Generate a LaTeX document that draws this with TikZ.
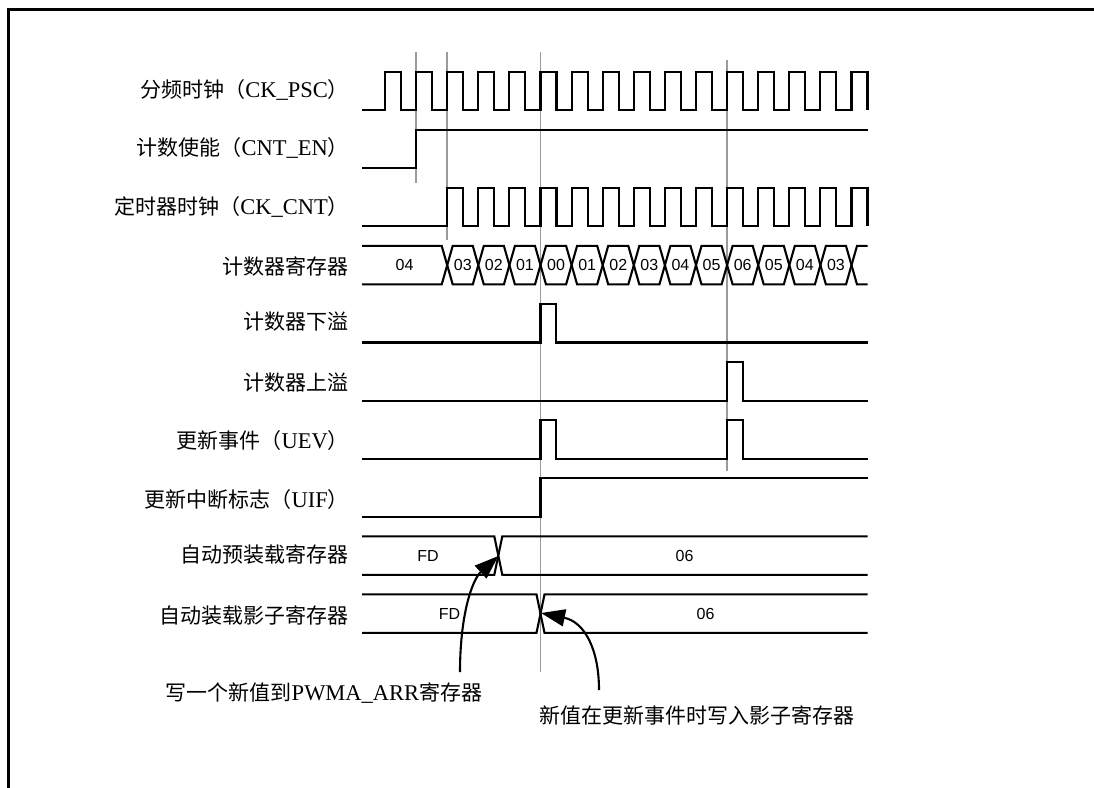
\documentclass[tikz,border=0pt]{standalone}
\usepackage{fontspec}
\setmainfont{Liberation Serif}
\newfontfamily\zhfont{Noto Sans CJK SC}
\newfontfamily\hexfont{Liberation Sans}
\usetikzlibrary{arrows.meta,calc}
\definecolor{tmGuide}{RGB}{155,155,155}
\newcommand{\zh}[1]{{\zhfont\fontsize{21}{24}\selectfont #1}}
\tikzset{
    tmWave/.style={draw=black, line width=2.1pt, line join=miter},
    tmGuideLine/.style={draw=tmGuide, line width=1.6pt},
    tmLabel/.style={anchor=east, inner sep=0pt, font=\fontsize{22.5}{25}\selectfont},
    tmValue/.style={inner sep=0pt, font=\hexfont\fontsize{16}{18}\selectfont},
    tmNote/.style={inner sep=0pt, font=\fontsize{22.5}{25}\selectfont},
    tmArrow/.style={-{Triangle[length=24pt,width=17pt]}, line width=2.1pt}
}
\begin{document}
\begin{tikzpicture}[x=1pt, y=-1pt]
    \useasboundingbox (0,0) rectangle (1094,787);
    % frame
    \draw[line width=2.6pt] (8.7,800) -- (8.7,9.5) -- (1100,9.5);

    % guide lines
    \draw[tmGuideLine] (416.1,52) -- (416.1,183);
    \draw[tmGuideLine] (447.2,52) -- (447.2,240);
    \draw[tmGuideLine] (540.5,52) -- (540.5,672);
    \draw[tmGuideLine] (727.1,60) -- (727.1,471);

    % signal names
    \node[tmLabel] (lblPsc) at (349,90) {\zh{分频时钟（}CK\_PSC\zh{）}};
    \node[tmLabel] (lblCntEn) at (349,148.3) {\zh{计数使能（}CNT\_EN\zh{）}};
    \node[tmLabel] (lblCkCnt) at (349,206.7) {\zh{定时器时钟（}CK\_CNT\zh{）}};
    \node[tmLabel] (lblCnt) at (349,266) {\zh{计数器寄存器}};
    \node[tmLabel] (lblUdf) at (349,321.7) {\zh{计数器下溢}};
    \node[tmLabel] (lblOvf) at (349,382.7) {\zh{计数器上溢}};
    \node[tmLabel] (lblUev) at (349,441) {\zh{更新事件（}UEV\zh{）}};
    \node[tmLabel] (lblUif) at (349,500) {\zh{更新中断标志（}UIF\zh{）}};
    \node[tmLabel] (lblArr) at (349,555) {\zh{自动预装载寄存器}};
    \node[tmLabel] (lblShadow) at (349,615) {\zh{自动装载影子寄存器}};

    % clocks
    \draw[tmWave] (362,110.2) \foreach \k in {0,...,15}{
        -- ({385+31.1*\k},110.2) -- ({385+31.1*\k},71.7)
        -- ({401+31.1*\k},71.7) -- ({401+31.1*\k},110.2)};
    \draw[tmWave] (362,168.3) -- (416.1,168.3) -- (416.1,129.8) -- (867.5,129.8);
    \draw[tmWave] (362,226.3) \foreach \k in {2,...,15}{
        -- ({385+31.1*\k},226.3) -- ({385+31.1*\k},187.8)
        -- ({401+31.1*\k},187.8) -- ({401+31.1*\k},226.3)};

    % counter register
    \draw[tmWave] (362,245.9) -- (441.7,245.9) -- (447.2,265.15) -- (441.7,284.4) -- (362,284.4);
    \node[tmValue] (cnt1) at (404.5,265.1) {04};
    \foreach \v [count=\k from 2] in {03,02,01,00,01,02,03,04,05,06,05,04,03}{
        \pgfmathsetmacro\xa{385+31.1*\k}
        \pgfmathsetmacro\xb{385+31.1*(\k+1)}
        \draw[tmWave] (\xa,265.15) -- (\xa+5.5,245.9) -- (\xb-5.5,245.9) -- (\xb,265.15)
            -- (\xb-5.5,284.4) -- (\xa+5.5,284.4) -- cycle;
        \node[tmValue] (cnt\k) at ({(\xa+\xb)/2},265.1) {\v};
    }
    \draw[tmWave] (867.5,245.9) -- (857,245.9) -- (851.5,265.15) -- (857,284.4) -- (867.5,284.4);

    % underflow, overflow, update event, flag
    \draw[tmWave] (362,342.5) -- (540.5,342.5) -- (540.5,304) -- (556,304) -- (556,342.5) -- (867.5,342.5);
    \draw[tmWave] (362,400.6) -- (727.1,400.6) -- (727.1,362.1) -- (742.6,362.1) -- (742.6,400.6) -- (867.5,400.6);
    \draw[tmWave] (362,458.6) -- (540.5,458.6) -- (540.5,420.1) -- (556,420.1) -- (556,458.6)
        -- (727.1,458.6) -- (727.1,420.1) -- (742.6,420.1) -- (742.6,458.6) -- (867.5,458.6);
    \draw[tmWave] (362,516.7) -- (540.5,516.7) -- (540.5,478.2) -- (867.5,478.2);

    % preload and shadow registers
    \draw[tmWave] (362,536.3) -- (494.3,536.3) -- (502.3,574.8) -- (867.5,574.8);
    \draw[tmWave] (362,574.8) -- (494.3,574.8) -- (502.3,536.3) -- (867.5,536.3);
    \node[tmValue] (arrOld) at (428,555.6) {FD};
    \node[tmValue] (arrNew) at (684.5,555.6) {06};
    \draw[tmWave] (362,594.4) -- (536.5,594.4) -- (544.5,632.9) -- (867.5,632.9);
    \draw[tmWave] (362,632.9) -- (536.5,632.9) -- (544.5,594.4) -- (867.5,594.4);
    \node[tmValue] (shOld) at (449.5,613.7) {FD};
    \node[tmValue] (shNew) at (705.5,613.7) {06};

    % notes
    \node[tmNote] (noteWrite) at (324,693) {\zh{写一个新值到}PWMA\_ARR\zh{寄存器}};
    \node[tmNote] (noteShadow) at (696.5,715) {\zh{新值在更新事件时写入影子寄存器}};
    \coordinate (wrFoot) at (460,672);
    \coordinate (wrPt) at (498.3,556);
    \coordinate (shFoot) at (599,690);
    \coordinate (shPt) at (541,613);
    \draw[tmArrow] (wrFoot) .. controls (460,615) and (472,580) .. (wrPt);
    \draw[tmArrow] (shFoot) .. controls (599,650) and (585,622) .. (shPt);
\end{tikzpicture}
\end{document}
